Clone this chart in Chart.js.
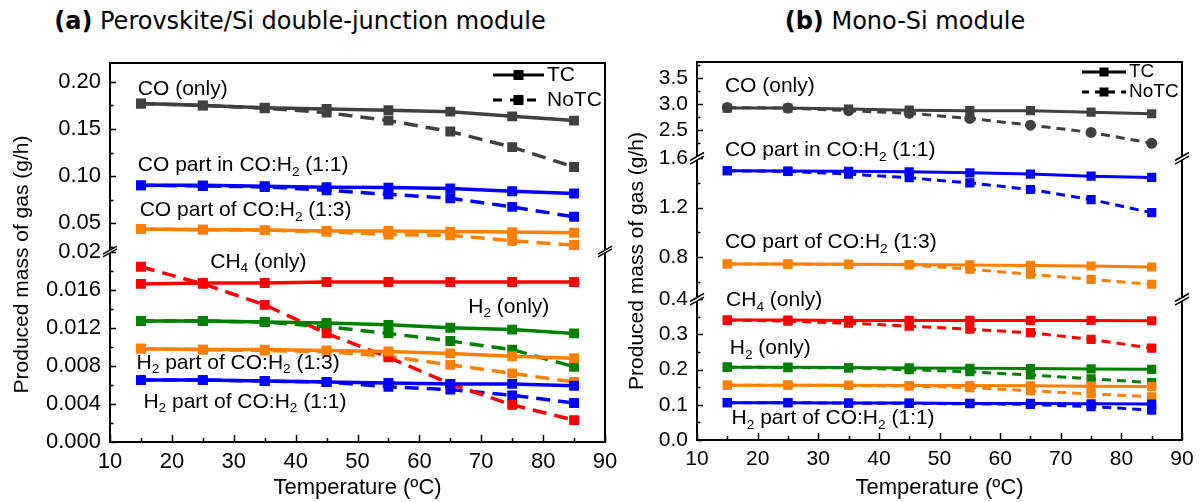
<!DOCTYPE html>
<html>
<head>
<meta charset="utf-8">
<script src="https://cdn.jsdelivr.net/npm/chart.js@4.4.1/dist/chart.umd.min.js"></script>
<style>
  body { margin: 0; background: #fff; width: 1200px; height: 502px; position: relative; overflow: hidden; }
  .title { position: absolute; top: 6px; width: 600px; text-align: center; font-family: 'DejaVu Sans', sans-serif;
           font-size: 24px; line-height: 30px; color: #000; white-space: nowrap; }
  #pa { position: absolute; left: 0; top: 0; }
  #pb { position: absolute; left: 620px; top: 0; }
</style>
</head>
<body>
<div class="title" style="left:0"><b>(a)</b> Perovskite/Si double-junction module</div>
<div class="title" style="left:605px"><b>(b)</b> Mono-Si module</div>
<canvas id="pa" width="620" height="502"></canvas>
<canvas id="pb" width="580" height="502"></canvas>
<script>
const temps = [15, 25, 35, 45, 55, 65, 75, 85];

// (a) perovskite/Si double-junction module, g/h
const aCoTC       = [0.1769, 0.1748, 0.1726, 0.1713, 0.1698, 0.1684, 0.1634, 0.1589];
const aCoNoTC     = [0.1770, 0.1750, 0.1720, 0.1674, 0.1589, 0.1473, 0.1307, 0.1096];
const aCo11TC     = [0.0902, 0.0902, 0.0892, 0.0881, 0.0878, 0.0868, 0.0839, 0.0815];
const aCo11NoTC   = [0.0902, 0.0895, 0.0885, 0.0850, 0.0807, 0.0765, 0.0673, 0.0568];
const aCo13TC     = [0.0438, 0.0432, 0.0427, 0.0417, 0.0417, 0.0411, 0.0406, 0.0399];
const aCo13NoTC   = [0.0438, 0.0432, 0.0427, 0.0410, 0.0380, 0.0372, 0.0314, 0.0269];
const aCh4TC      = [0.0166, 0.0167, 0.0167, 0.0168, 0.0168, 0.0168, 0.0168, 0.0168];
const aCh4NoTC    = [0.0184, 0.0166, 0.0144, 0.0114, 0.0089, 0.0061, 0.0039, 0.0023];
const aH2TC       = [0.0127, 0.0127, 0.0126, 0.0125, 0.0123, 0.0120, 0.0118, 0.0114];
const aH2NoTC     = [0.0127, 0.0127, 0.0126, 0.0121, 0.0114, 0.0106, 0.0097, 0.0079];
const aH2of13TC   = [0.0098, 0.0097, 0.0097, 0.0096, 0.0095, 0.0093, 0.0090, 0.0088];
const aH2of13NoTC = [0.0098, 0.0097, 0.0096, 0.0095, 0.0090, 0.0081, 0.0072, 0.0063];
const aH2of11TC   = [0.0065, 0.0065, 0.0064, 0.0063, 0.0062, 0.0061, 0.0061, 0.0059];
const aH2of11NoTC = [0.0065, 0.0065, 0.0064, 0.0063, 0.0058, 0.0055, 0.0049, 0.0041];

// (b) mono-Si module, g/h
const bCoTC       = [2.92, 2.92, 2.90, 2.88, 2.87, 2.87, 2.84, 2.81];
const bCoNoTC     = [2.93, 2.92, 2.87, 2.82, 2.72, 2.59, 2.45, 2.24];
const bCo11TC     = [1.499, 1.496, 1.494, 1.491, 1.482, 1.472, 1.455, 1.445];
const bCo11NoTC   = [1.499, 1.494, 1.472, 1.442, 1.400, 1.347, 1.265, 1.159];
const bCo13TC     = [0.743, 0.742, 0.740, 0.738, 0.735, 0.731, 0.726, 0.718];
const bCo13NoTC   = [0.743, 0.742, 0.740, 0.735, 0.700, 0.660, 0.617, 0.578];
const bCh4TC      = [0.341, 0.341, 0.340, 0.340, 0.340, 0.340, 0.340, 0.339];
const bCh4NoTC    = [0.341, 0.338, 0.332, 0.324, 0.315, 0.305, 0.286, 0.261];
const bH2TC       = [0.207, 0.207, 0.206, 0.205, 0.204, 0.203, 0.202, 0.201];
const bH2NoTC     = [0.207, 0.206, 0.205, 0.200, 0.194, 0.185, 0.174, 0.163];
const bH2of13TC   = [0.156, 0.156, 0.156, 0.155, 0.155, 0.154, 0.153, 0.152];
const bH2of13NoTC = [0.156, 0.156, 0.155, 0.153, 0.149, 0.140, 0.131, 0.123];
const bH2of11TC   = [0.106, 0.106, 0.105, 0.105, 0.104, 0.104, 0.103, 0.102];
const bH2of11NoTC = [0.106, 0.106, 0.105, 0.104, 0.103, 0.101, 0.095, 0.085];

// tick values
const xTicks      = [10, 15, 20, 25, 30, 35, 40, 45, 50, 55, 60, 65, 70, 75, 80, 85, 90];
const aUpperTicks = [0.025, 0.05, 0.075, 0.1, 0.125, 0.15, 0.175, 0.2];
const aLowerTicks = [0, 0.002, 0.004, 0.006, 0.008, 0.01, 0.012, 0.014, 0.016, 0.018, 0.02];
const bUpperTicks = [2.25, 2.5, 2.75, 3, 3.25, 3.5, 3.75];
const bMidTicks   = [0.6, 0.8, 1.0, 1.2, 1.4, 1.6];
const bLowerTicks = [0, 0.05, 0.1, 0.15, 0.2, 0.25, 0.3, 0.35, 0.4];

// in-plot labels: text, temperature, value, axis  (_2 = subscript)
const aNotes = [
  ['CO (only)', 14.5, 0.1927, 'up'],
  ['CO part in CO:H_2 (1:1)', 14.5, 0.1114, 'up'],
  ['CO part of CO:H_2 (1:3)', 14.8, 0.0638, 'up'],
  ['CH_4 (only)', 26.2, 0.0189, 'low'],
  ['H_2 (only)', 67.9, 0.0142, 'low'],
  ['H_2 part of CO:H_2 (1:3)', 14.3, 0.0083, 'low'],
  ['H_2 part of CO:H_2 (1:1)', 15.4, 0.0042, 'low']
];
const bNotes = [
  ['CO (only)', 14.6, 3.335, 'up'],
  ['CO part in CO:H_2 (1:1)', 14.6, 2.11, 'up'],
  ['CO part of CO:H_2 (1:3)', 14.6, 0.919, 'mid'],
  ['CH_4 (only)', 14.8, 0.397, 'low'],
  ['H_2 (only)', 15.4, 0.261, 'low'],
  ['H_2 part of CO:H_2 (1:1)', 15.7, 0.0617, 'low']
];

const FONT = "'Liberation Sans', Arial, sans-serif";
const GRAY = '#404040', BLUE = '#0000ff', ORANGE = '#ff8000', RED = '#ff0000', GREEN = '#008000';

function isMult(v, step) {
  const r = v / step;
  return Math.abs(r - Math.round(r)) < 1e-6;
}

function series(values, color, axis, dash, shape, radius, width) {
  return {
    data: temps.map((t, i) => ({x: t, y: values[i]})),
    yAxisID: axis,
    borderColor: color,
    backgroundColor: color,
    borderWidth: width,
    borderDash: dash,
    pointStyle: shape,
    pointRadius: radius,
    pointBorderWidth: 0,
    tension: 0
  };
}

function xAxis(width, height, fontSize) {
  return {
    type: 'linear', min: 10, max: 90,
    afterBuildTicks: s => { s.ticks = xTicks.map(v => ({value: v})); },
    afterFit: s => { s.height = height; s.paddingLeft = 0; s.paddingRight = 0; },
    grid: {display: false, drawTicks: false},
    border: {display: true, color: '#000', width: 2},
    ticks: {autoSkip: false, maxRotation: 0, padding: 7, color: '#000',
            font: {family: FONT, size: fontSize},
            callback: v => isMult(v, 10) ? String(v) : ''},
    title: {display: true, text: 'Temperature (ºC)', color: '#000',
            font: {family: FONT, size: 22}, padding: {top: 0, bottom: 1}}
  };
}

function yAxis(weight, stackWeight, min, max, tickVals, fmt, width, fontSize) {
  return {
    type: 'linear', position: 'left', stack: 'y', weight, stackWeight, min, max,
    afterBuildTicks: s => { s.ticks = tickVals.map(v => ({value: v})); },
    afterFit: s => { s.width = width; s.paddingTop = 0; s.paddingBottom = 0; },
    grid: {display: false, drawTicks: false},
    border: {display: true, color: '#000', width: 2},
    ticks: {autoSkip: false, padding: 9, color: '#000', font: {family: FONT, size: fontSize}, callback: fmt}
  };
}

function richText(ctx, str, x, y, size) {
  const parts = str.split(/(_\d)/);
  for (const p of parts) {
    if (!p) continue;
    if (p[0] === '_') {
      ctx.font = (size * 0.65) + 'px ' + FONT;
      ctx.fillText(p.slice(1), x, y + size * 0.32);
      x += ctx.measureText(p.slice(1)).width;
    } else {
      ctx.font = size + 'px ' + FONT;
      ctx.fillText(p, x, y);
      x += ctx.measureText(p).width;
    }
  }
}

function breakMark(ctx, x, y, g) {
  const dx = 7, dy = 4;
  ctx.fillStyle = '#fff';
  ctx.beginPath();
  ctx.moveTo(x - dx, y + dy - g);
  ctx.lineTo(x + dx, y - dy - g);
  ctx.lineTo(x + dx, y - dy + g);
  ctx.lineTo(x - dx, y + dy + g);
  ctx.closePath();
  ctx.fill();
  ctx.lineWidth = 1.5;
  ctx.beginPath();
  ctx.moveTo(x - dx, y + dy - g); ctx.lineTo(x + dx, y - dy - g);
  ctx.moveTo(x - dx, y + dy + g); ctx.lineTo(x + dx, y - dy + g);
  ctx.stroke();
}

// frame, inward ticks, axis breaks, labels, legend, y title
const decor = {
  id: 'decor',
  afterDraw(chart, args, o) {
    const {ctx, chartArea: a, scales} = chart;
    ctx.save();
    ctx.strokeStyle = '#000';
    ctx.lineWidth = 2;
    ctx.beginPath();
    ctx.moveTo(a.left, a.top);
    ctx.lineTo(a.right, a.top);
    ctx.lineTo(a.right, a.bottom);
    ctx.stroke();

    ctx.lineWidth = 1.5;
    ctx.beginPath();
    for (const id of o.yIds) {
      const s = scales[id];
      for (const t of s.ticks) {
        const y = Math.round(s.getPixelForValue(t.value)) + 0.5;
        ctx.moveTo(a.left, y);
        ctx.lineTo(a.left + (t.label ? 6 : 3.5), y);
      }
    }
    for (const t of scales.x.ticks) {
      const x = Math.round(scales.x.getPixelForValue(t.value)) + 0.5;
      ctx.moveTo(x, a.bottom);
      ctx.lineTo(x, a.bottom - (t.label ? 7 : 4));
    }
    ctx.stroke();

    for (const id of o.breakAt) {
      const y = scales[id].top;
      breakMark(ctx, a.left, y, o.gap);
      breakMark(ctx, a.right, y, o.gap);
    }

    ctx.textBaseline = 'middle';
    ctx.textAlign = 'left';
    for (const [text, t, v, axis] of o.notes) {
      ctx.fillStyle = '#000';
      richText(ctx, text, scales.x.getPixelForValue(t), scales[axis].getPixelForValue(v), 21);
    }

    // legend
    const L = o.legend;
    const rows = [['TC', []], ['NoTC', L.dash]];
    rows.forEach(([name, dash], i) => {
      const x0 = a.right - L.fromRight, y = a.top + L.top + i * L.gap;
      ctx.strokeStyle = '#000';
      ctx.fillStyle = '#000';
      ctx.lineWidth = 3;
      ctx.setLineDash(dash);
      ctx.beginPath();
      ctx.moveTo(x0, y);
      ctx.lineTo(x0 + L.len, y);
      ctx.stroke();
      ctx.setLineDash([]);
      const m = L.mark;
      ctx.fillRect(x0 + L.len / 2 - m / 2, y - m / 2, m, m);
      ctx.font = L.size + 'px ' + FONT;
      ctx.fillText(name, x0 + L.len + 3, y);
    });

    // y title
    ctx.translate(o.yTitle.x, (a.top + a.bottom) / 2 + o.yTitle.dy);
    ctx.rotate(-Math.PI / 2);
    ctx.textAlign = 'center';
    ctx.font = '21px ' + FONT;
    ctx.fillStyle = '#000';
    ctx.fillText('Produced mass of gas (g/h)', 0, 0);
    ctx.restore();
  }
};

const LDA = [14, 8], LDB = [9, 6];

new Chart(document.getElementById('pa'), {
  type: 'line',
  data: {
    datasets: [
      series(aCoTC, GRAY, 'up', [], 'rect', 7, 3.5),
      series(aCo11TC, BLUE, 'up', [], 'rect', 7, 3.5),
      series(aCo13TC, ORANGE, 'up', [], 'rect', 7, 3.5),
      series(aCh4TC, RED, 'low', [], 'rect', 7, 3.5),
      series(aH2TC, GREEN, 'low', [], 'rect', 7, 3.5),
      series(aH2of13TC, ORANGE, 'low', [], 'rect', 7, 3.5),
      series(aH2of11TC, BLUE, 'low', [], 'rect', 7, 3.5),
      series(aCoNoTC, GRAY, 'up', LDA, 'rect', 7, 3.5),
      series(aCo11NoTC, BLUE, 'up', LDA, 'rect', 7, 3.5),
      series(aCo13NoTC, ORANGE, 'up', LDA, 'rect', 7, 3.5),
      series(aCh4NoTC, RED, 'low', LDA, 'rect', 7, 3.5),
      series(aH2NoTC, GREEN, 'low', LDA, 'rect', 7, 3.5),
      series(aH2of13NoTC, ORANGE, 'low', LDA, 'rect', 7, 3.5),
      series(aH2of11NoTC, BLUE, 'low', LDA, 'rect', 7, 3.5)
    ]
  },
  options: {
    responsive: false,
    animation: false,
    layout: {padding: {left: 0, right: 15, top: 63, bottom: 0}},
    scales: {
      x: xAxis(620, 60, 22),
      up: yAxis(2, 188.5, 0.02, 0.22, aUpperTicks,
                v => isMult(v, 0.05) ? v.toFixed(2) : '', 110, 22),
      low: yAxis(1, 190.5, 0, 0.02, aLowerTicks,
                 v => Math.abs(v - 0.02) < 1e-9 ? '0.02' : (isMult(v, 0.004) ? v.toFixed(3) : ''), 110, 22)
    },
    plugins: {
      legend: {display: false},
      tooltip: {enabled: false},
      decor: {
        yIds: ['up', 'low'], breakAt: ['low'], gap: 1.3, notes: aNotes,
        legend: {fromRight: 112, top: 12, gap: 25, len: 51, mark: 10, size: 21, dash: [9, 8]},
        yTitle: {x: 22, dy: 12}
      }
    }
  },
  plugins: [decor]
});

new Chart(document.getElementById('pb'), {
  type: 'line',
  data: {
    datasets: [
      series(bCoTC, GRAY, 'up', [], 'rect', 6.5, 3),
      series(bCo11TC, BLUE, 'mid', [], 'rect', 6.5, 3),
      series(bCo13TC, ORANGE, 'mid', [], 'rect', 6.5, 3),
      series(bCh4TC, RED, 'low', [], 'rect', 6.5, 3),
      series(bH2TC, GREEN, 'low', [], 'rect', 6.5, 3),
      series(bH2of13TC, ORANGE, 'low', [], 'rect', 6.5, 3),
      series(bH2of11TC, BLUE, 'low', [], 'rect', 6.5, 3),
      series(bCoNoTC, GRAY, 'up', LDB, 'circle', 5.5, 3),
      series(bCo11NoTC, BLUE, 'mid', LDB, 'rect', 6.5, 3),
      series(bCo13NoTC, ORANGE, 'mid', LDB, 'rect', 6.5, 3),
      series(bCh4NoTC, RED, 'low', LDB, 'rect', 6.5, 3),
      series(bH2NoTC, GREEN, 'low', LDB, 'rect', 6.5, 3),
      series(bH2of13NoTC, ORANGE, 'low', LDB, 'rect', 6.5, 3),
      series(bH2of11NoTC, BLUE, 'low', LDB, 'rect', 6.5, 3)
    ]
  },
  options: {
    responsive: false,
    animation: false,
    layout: {padding: {left: 0, right: 18, top: 62, bottom: 0}},
    scales: {
      x: xAxis(580, 62, 21),
      up: yAxis(3, 96.3, 1.95, 3.81, bUpperTicks,
                v => isMult(v, 0.5) ? v.toFixed(1) : '', 77, 21),
      mid: yAxis(2, 141, 0.456, 1.6, bMidTicks,
                 v => isMult(v, 0.4) ? v.toFixed(1) : '', 77, 21),
      low: yAxis(1, 140.7, 0, 0.4, bLowerTicks,
                 v => isMult(v, 0.1) ? v.toFixed(1) : '', 77, 21)
    },
    plugins: {
      legend: {display: false},
      tooltip: {enabled: false},
      decor: {
        yIds: ['up', 'mid', 'low'], breakAt: ['mid', 'low'], gap: 1.8, notes: bNotes,
        legend: {fromRight: 100, top: 10, gap: 20, len: 44, mark: 9, size: 19, dash: [7, 6]},
        yTitle: {x: 17, dy: 10}
      }
    }
  },
  plugins: [decor]
});
</script>
</body>
</html>
